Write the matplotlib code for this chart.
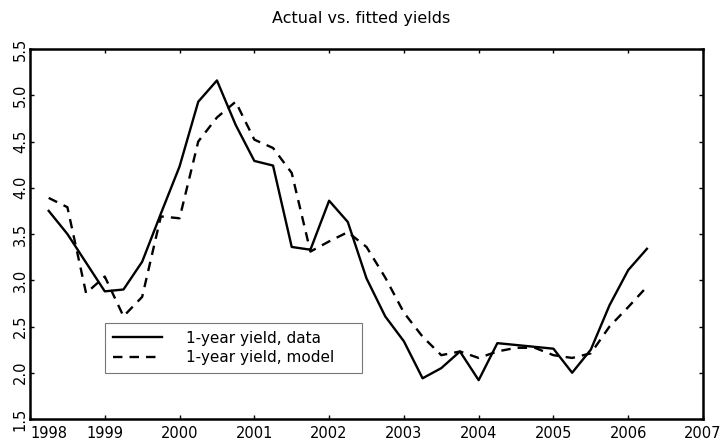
import numpy as np
import matplotlib.pyplot as plt

# quarterly observations, 1998Q2 .. 2006Q2
quarters = np.arange(1998.25, 2006.26, 0.25)
yield_data = [3.75, 3.50, 3.19, 2.88, 2.90, 3.20, 3.72, 4.23, 4.93, 5.16, 4.68, 4.29, 4.24,
              3.36, 3.33, 3.86, 3.63, 3.02, 2.61, 2.34, 1.94, 2.05, 2.23, 1.92, 2.32,
              2.30, 2.28, 2.26, 2.00, 2.25, 2.73, 3.11, 3.34]
yield_model = [3.89, 3.79, 2.86, 3.04, 2.61, 2.82, 3.69, 3.67, 4.50, 4.76, 4.93, 4.52, 4.43,
               4.16, 3.31, 3.42, 3.52, 3.36, 3.03, 2.65, 2.39, 2.19, 2.23, 2.16, 2.23,
               2.27, 2.27, 2.19, 2.16, 2.21, 2.50, 2.71, 2.93]
year_ticks = list(range(1998, 2008))
yield_ticks = [1.5, 2.0, 2.5, 3.0, 3.5, 4.0, 4.5, 5.0, 5.5]

plt.rcParams['font.family'] = 'DejaVu Sans'
fig = plt.figure(figsize=(7.25, 4.41), dpi=100)
ax = fig.add_axes([30 / 725, 1 - 419 / 441, 673 / 725, 370 / 441])

ax.plot(quarters, yield_data, color="black", lw=1.7, label="1-year yield, data")
ax.plot(quarters, yield_model, color="black", lw=1.7, ls=(0, (4, 3)), label="1-year yield, model")

ax.set_xlim(1998, 2007)
ax.set_ylim(1.5, 5.5)
ax.set_xticks(year_ticks)
ax.set_yticks(yield_ticks)
ax.set_yticklabels([f"{v:.1f}" for v in yield_ticks], rotation=90, va="center")
ax.tick_params(direction="in", length=3, width=1, top=True, right=True, labelsize=10.5)
ax.tick_params(axis="x", pad=5)
ax.tick_params(axis="y", pad=1.5)
# first year label sits right of the corner, like the original
ax.get_xticklabels()[0].set_ha("left")
for s in ax.spines.values():
    s.set_linewidth(1.8)

fig.text(361 / 725, 1 - 18 / 441, "Actual vs. fitted yields", ha="center", va="center", fontsize=11.5)

leg = ax.legend(loc="lower left", bbox_to_anchor=((105 - 30) / 673, (419 - 373) / 370,
                                                   257 / 673, 53 / 370),
                mode="expand", borderaxespad=0, frameon=True, fancybox=False, fontsize=11,
                handlelength=3.2, handletextpad=1.6, borderpad=0.5, labelspacing=0.3)
leg.get_frame().set_edgecolor("#555555")
leg.get_frame().set_linewidth(0.8)

fig.savefig("out.png", dpi=100)
